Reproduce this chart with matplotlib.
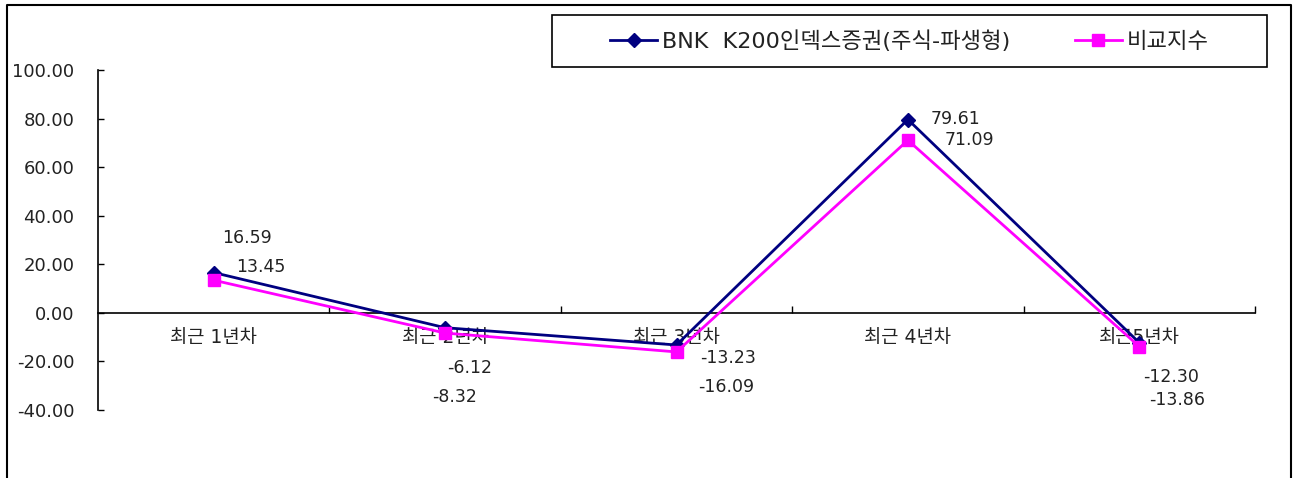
import numpy as np
import matplotlib
matplotlib.use('Agg')
import matplotlib.pyplot as plt
from matplotlib.lines import Line2D
from matplotlib.patches import Rectangle
from matplotlib.ticker import FormatStrFormatter, FixedLocator

plt.rcParams['font.family'] = ['DejaVu Sans', 'Noto Sans CJK KR']

categories = ['최근 1년차', '최근 2년차', '최근 3년차', '최근 4년차', '최근5년차']
fund_name = 'BNK  K200인덱스증권(주식-파생형)'
bench_name = '비교지수'
fund = [16.59, -6.12, -13.23, 79.61, -12.30]
bench = [13.45, -8.32, -16.09, 71.09, -13.86]
yticks = [-40, -20, 0, 20, 40, 60, 80, 100]

# label offsets in pixels (x, y) from each marker
fund_off = [(33, 35), (25, -40), (52, -13), (48, 1), (32, -34)]
bench_off = [(47, 13), (9, -64), (50, -35), (62, 0), (38, -53)]

W, H = 1293, 478
fig = plt.figure(figsize=(W / 100, H / 100), dpi=100)
ax = fig.add_axes([98 / W, (H - 410) / H, (1255 - 98) / W, 340 / H])

x = np.arange(len(categories))
ax.plot(x, fund, color='#000080', lw=2, marker='D', ms=7, zorder=3)
ax.plot(x, bench, color='#FF00FF', lw=2, marker='s', ms=9, zorder=3)

for xi, v, (dx, dy) in zip(x, fund, fund_off):
    ax.annotate(f'{v:.2f}', (xi, v), xytext=(dx, dy), textcoords='offset pixels',
                ha='center', va='center', fontsize=12.5, color='#222222', zorder=5)
for xi, v, (dx, dy) in zip(x, bench, bench_off):
    ax.annotate(f'{v:.2f}', (xi, v), xytext=(dx, dy), textcoords='offset pixels',
                ha='center', va='center', fontsize=12.5, color='#222222', zorder=5)

ax.set_xlim(-0.5, len(categories) - 0.5)
ax.set_ylim(-40, 100)
ax.set_yticks(yticks)
ax.yaxis.set_major_formatter(FormatStrFormatter('%.2f'))
ax.tick_params(axis='y', direction='in', length=4, width=1, pad=17,
               labelsize=13, labelcolor='#222222')
ax.set_xticks(x)
ax.set_xticklabels(categories)
ax.tick_params(axis='x', which='major', length=0, pad=11, labelsize=13.5,
               labelcolor='#222222')
ax.xaxis.set_minor_locator(FixedLocator(np.arange(len(categories)) + 0.5))
ax.tick_params(axis='x', which='minor', direction='in', length=5, width=1)

ax.spines['top'].set_visible(False)
ax.spines['right'].set_visible(False)
ax.spines['bottom'].set_position(('data', 0))
ax.spines['bottom'].set_zorder(1)
for s in ('left', 'bottom'):
    ax.spines[s].set_linewidth(1.2)

# legend box
fig.patches.append(Rectangle((552 / W, (H - 67) / H), 715 / W, 52 / H,
                             transform=fig.transFigure, fill=False,
                             edgecolor='black', lw=1.2))
handles = [Line2D([], [], color='#000080', lw=2, marker='D', ms=7),
           Line2D([], [], color='#FF00FF', lw=2, marker='s', ms=9)]
fig.legend(handles, [fund_name, bench_name], loc='center',
           bbox_to_anchor=((552 + 715 / 2) / W, (H - 41) / H), ncol=2,
           frameon=False, fontsize=16, handlelength=2.1, handletextpad=0.23,
           columnspacing=2.9, labelcolor='#222222')

# outer frame
fig.add_artist(Line2D([7 / W, 7 / W, 1291 / W, 1291 / W],
                      [0, (H - 5) / H, (H - 5) / H, 0],
                      transform=fig.transFigure, color='black', lw=1.5))

fig.savefig('out.png', dpi=100)
